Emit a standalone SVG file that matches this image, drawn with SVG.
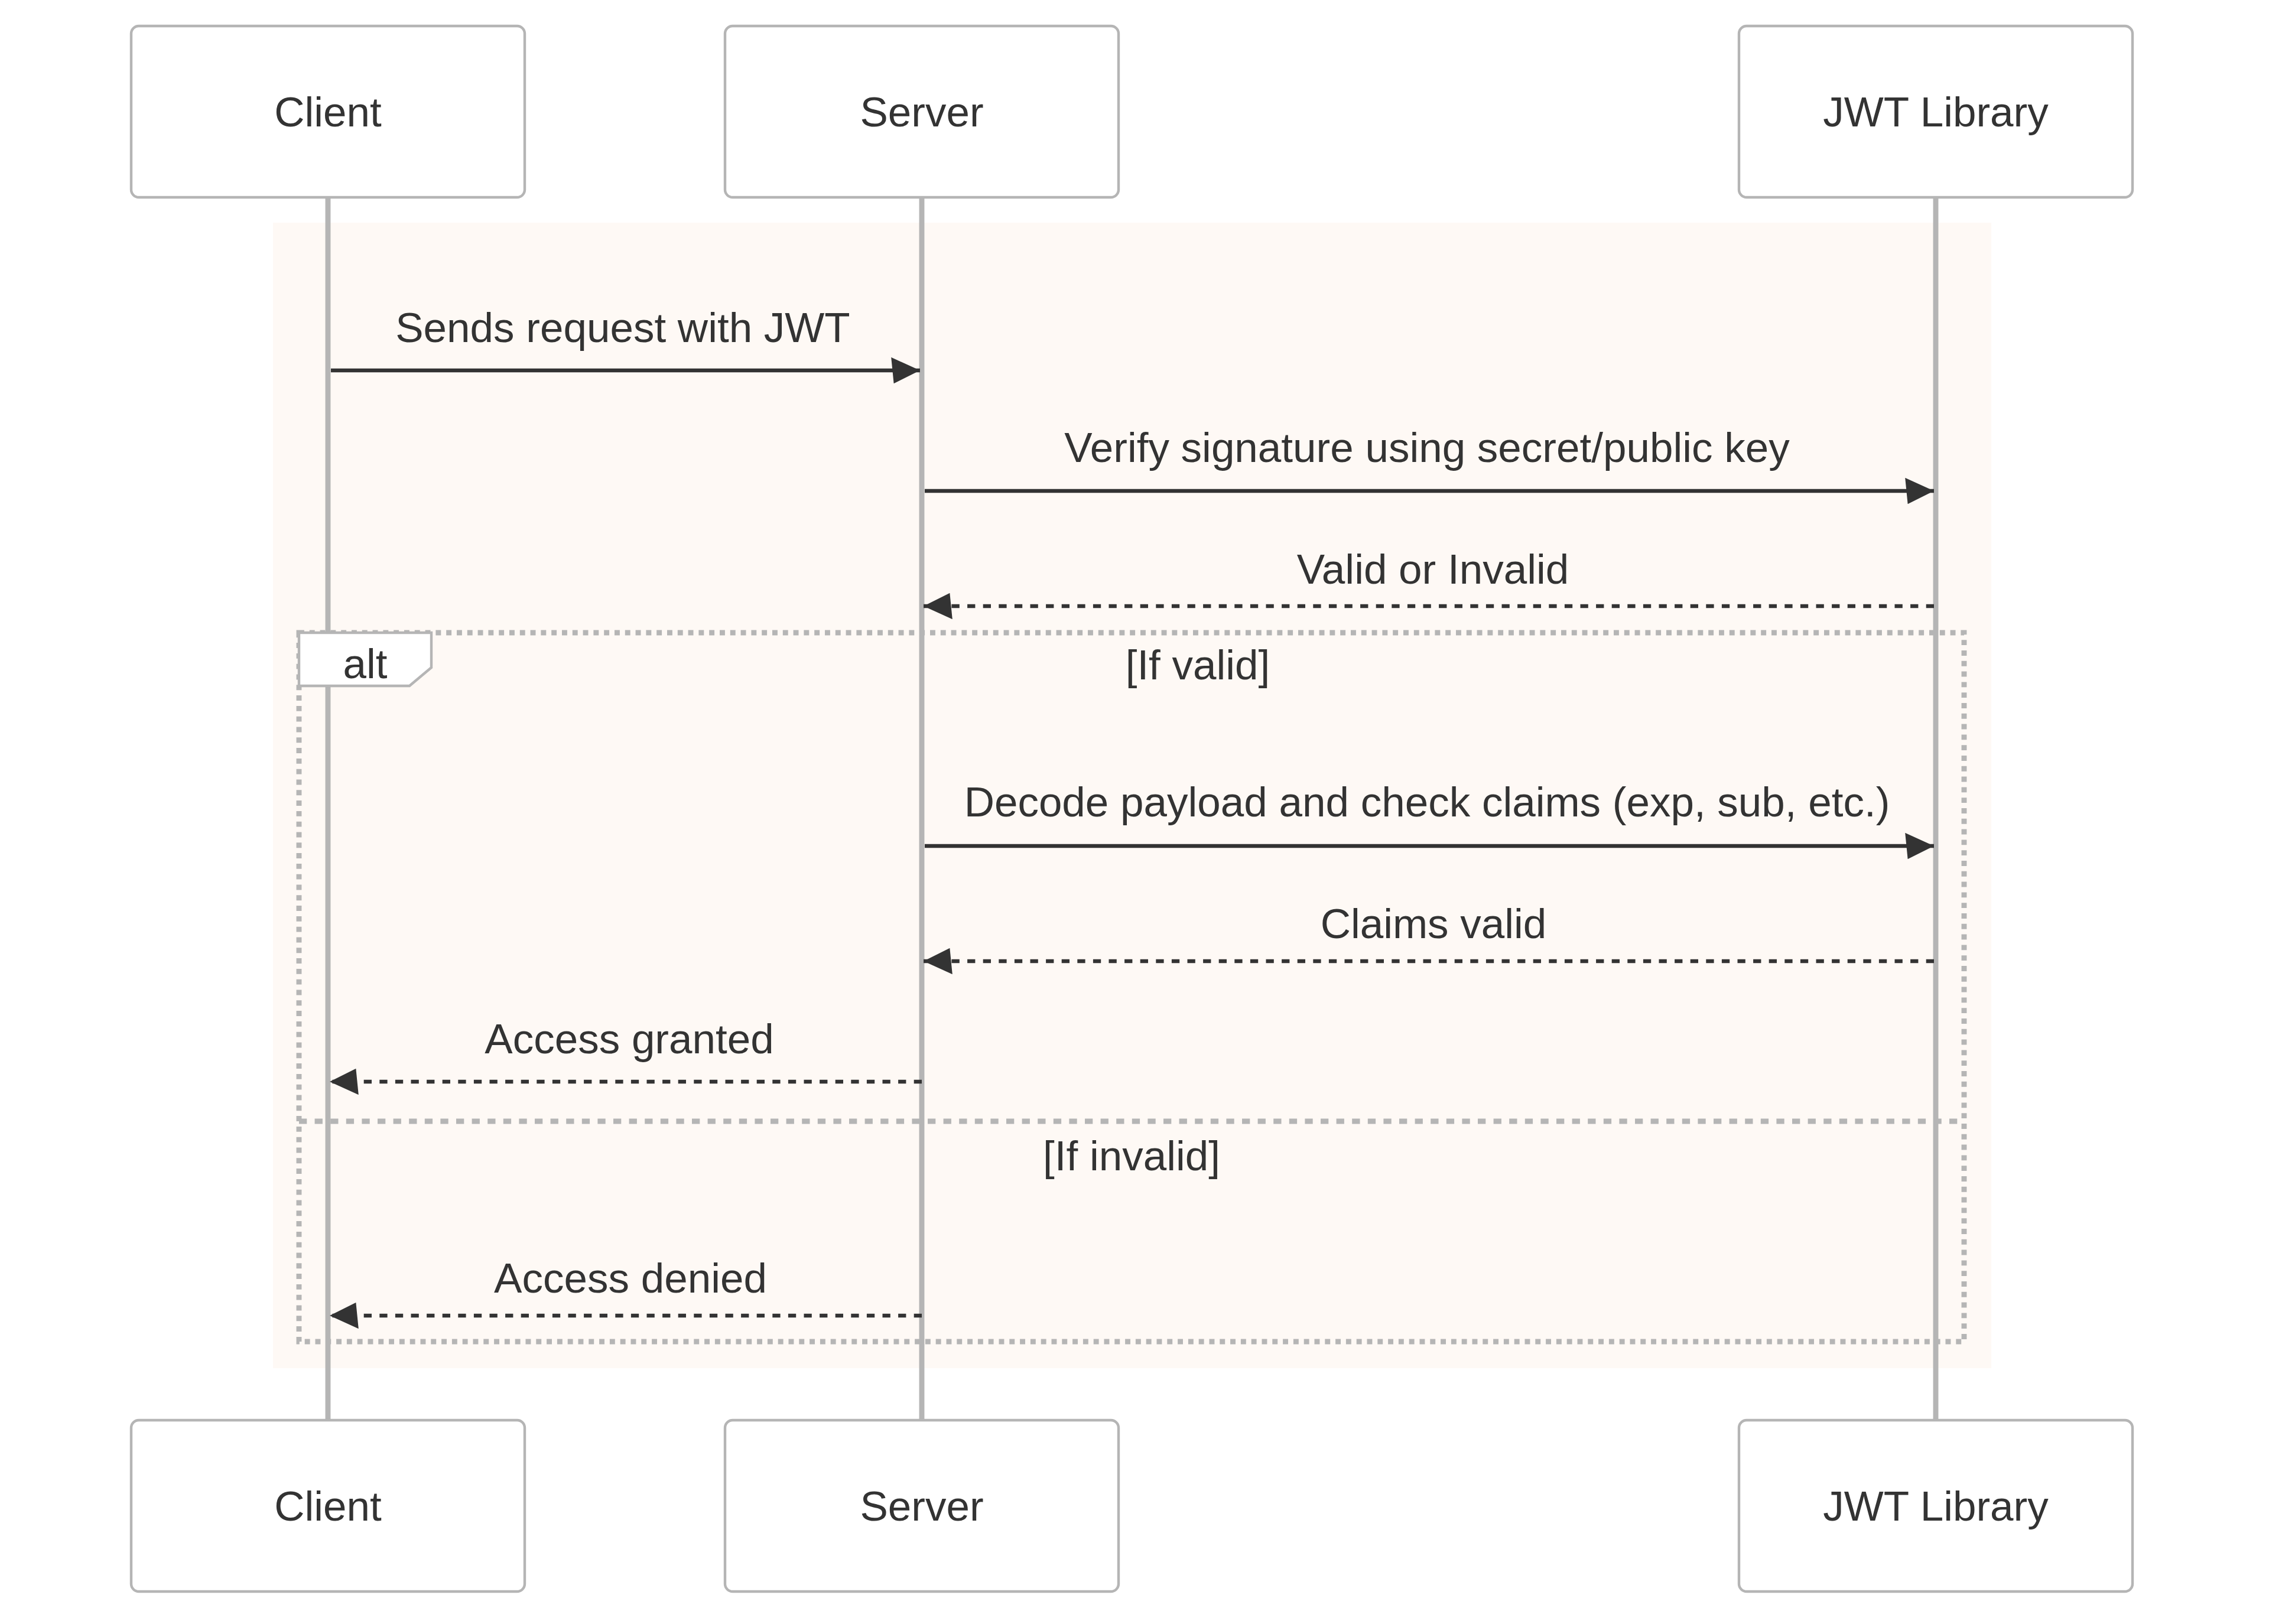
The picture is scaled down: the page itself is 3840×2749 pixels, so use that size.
<svg xmlns="http://www.w3.org/2000/svg" width="3840" height="2749" viewBox="0 0 3840 2749">
<style>
text{font-family:"Liberation Sans",Arial,sans-serif;font-size:71px;fill:#333;text-anchor:middle}
.actor{fill:#fff;stroke:#b5b5b5;stroke-width:4.4}
.life{stroke:#b5b5b5;stroke-width:8.9}
.msg{stroke:#333;stroke-width:6.6;fill:none}
.dash{stroke-dasharray:13.3 13.3}
.loop{stroke:#b5b5b5;stroke-width:8.9;fill:none;stroke-dasharray:8.9 8.9}
.sep{stroke:#b5b5b5;stroke-width:8.9;fill:none;stroke-dasharray:13.3 13.3}
.lbl{fill:#fff;stroke:#b5b5b5;stroke-width:4.4}
</style>
<defs>
<marker id="ah" markerUnits="userSpaceOnUse" viewBox="-1 0 11 10" markerWidth="48.8" markerHeight="44.4" refX="10" refY="5" orient="auto">
<path d="M -1 0 L 10 5 L 0 10 z" fill="#333"/>
</marker>
</defs>
<rect width="3840" height="2749" fill="#fff"/>
<rect id="highlight" x="462" y="377" width="2908" height="1939" fill="rgb(254,249,245)"/>
<g id="lifelines">
<line class="life" x1="555" y1="334" x2="555" y2="2404"/>
<line class="life" x1="1560" y1="334" x2="1560" y2="2404"/>
<line class="life" x1="3276" y1="334" x2="3276" y2="2404"/>
</g>
<g id="alt">
<rect class="loop" x="506" y="1071" width="2818" height="1200"/>
<line class="sep" x1="506" y1="1898" x2="3324" y2="1898"/>
<polygon class="lbl" points="506,1071 730,1071 730,1130 693,1161 506,1161"/>
<text x="618" y="1148">alt</text>
<text x="2027" y="1150">[If valid]</text>
<text x="1915" y="1981">[If invalid]</text>
</g>
<g id="actor-client-top"><rect class="actor" x="222" y="44" width="666" height="290" rx="13"/><text x="555" y="214">Client</text></g>
<g id="actor-server-top"><rect class="actor" x="1227" y="44" width="666" height="290" rx="13"/><text x="1560" y="214">Server</text></g>
<g id="actor-jwt-top"><rect class="actor" x="2943" y="44" width="666" height="290" rx="13"/><text x="3276" y="214">JWT Library</text></g>
<g id="actor-client-bottom"><rect class="actor" x="222" y="2404" width="666" height="290" rx="13"/><text x="555" y="2574">Client</text></g>
<g id="actor-server-bottom"><rect class="actor" x="1227" y="2404" width="666" height="290" rx="13"/><text x="1560" y="2574">Server</text></g>
<g id="actor-jwt-bottom"><rect class="actor" x="2943" y="2404" width="666" height="290" rx="13"/><text x="3276" y="2574">JWT Library</text></g>
<g id="connectors">
<line class="msg" x1="560" y1="627" x2="1557" y2="627" marker-end="url(#ah)"/>
<text x="1054" y="579">Sends request with JWT</text>
<line class="msg" x1="1565" y1="831" x2="3273" y2="831" marker-end="url(#ah)"/>
<text x="2415" y="782">Verify signature using secret/public key</text>
<line class="msg dash" x1="3273" y1="1026" x2="1563" y2="1026" marker-end="url(#ah)"/>
<text x="2425" y="988">Valid or Invalid</text>
<line class="msg" x1="1565" y1="1432" x2="3273" y2="1432" marker-end="url(#ah)"/>
<text x="2415" y="1382">Decode payload and check claims (exp, sub, etc.)</text>
<line class="msg dash" x1="3273" y1="1627" x2="1563" y2="1627" marker-end="url(#ah)"/>
<text x="2426" y="1588">Claims valid</text>
<line class="msg dash" x1="1560" y1="1831" x2="558" y2="1831" marker-end="url(#ah)"/>
<text x="1065" y="1783">Access granted</text>
<line class="msg dash" x1="1560" y1="2227" x2="558" y2="2227" marker-end="url(#ah)"/>
<text x="1067" y="2188">Access denied</text>
</g>
</svg>
